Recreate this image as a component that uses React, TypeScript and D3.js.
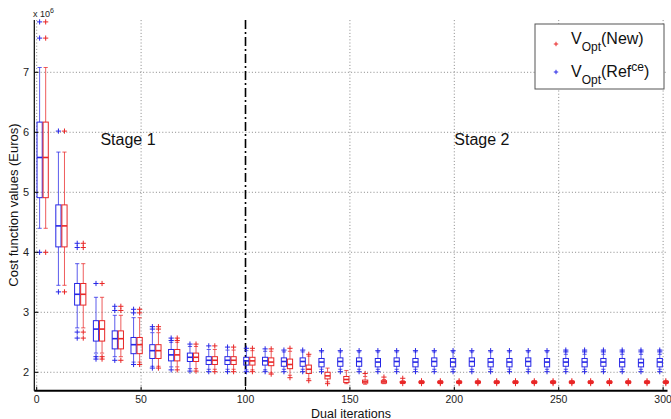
import React from 'react';
import * as d3 from 'd3';

// iteration at which each pair of boxes sits (blue a bit left, red a bit right)
const groupIter = [3, 12, 21, 30, 39, 48, 57, 66, 75, 84, 93, 102, 111, 120, 129, 138, 147,
  156, 165, 174, 183, 192, 201, 210, 219, 228, 237, 246, 255, 264, 273, 282, 291, 300];

// V_Opt(Ref^ce), values in 10^6 Euros
const blueLo = [4.40, 3.45, 2.74, 2.32, 2.26, 2.17, 2.10, 2.09, 2.06, 2.05, 2.05, 2.04, 2.04, 2.05, 2.05, 2.05, 2.05,
  2.05, 2.05, 2.05, 2.05, 2.05, 2.05, 2.05, 2.05, 2.05, 2.05, 2.05, 2.05, 2.05, 2.05, 2.05, 2.05, 2.05];
const blueQ1 = [4.91, 4.09, 3.12, 2.52, 2.39, 2.31, 2.23, 2.19, 2.18, 2.13, 2.13, 2.12, 2.12, 2.10, 2.10, 2.09, 2.10,
  2.10, 2.09, 2.10, 2.09, 2.10, 2.09, 2.10, 2.09, 2.09, 2.10, 2.09, 2.10, 2.09, 2.10, 2.09, 2.09, 2.09];
const blueMed = [5.58, 4.44, 3.30, 2.72, 2.56, 2.46, 2.36, 2.29, 2.25, 2.20, 2.20, 2.19, 2.19, 2.18, 2.18, 2.17, 2.18,
  2.18, 2.17, 2.18, 2.17, 2.18, 2.17, 2.18, 2.17, 2.17, 2.18, 2.17, 2.17, 2.17, 2.17, 2.17, 2.16, 2.17];
const blueQ3 = [6.17, 4.79, 3.48, 2.86, 2.69, 2.58, 2.46, 2.38, 2.32, 2.26, 2.26, 2.25, 2.25, 2.24, 2.24, 2.23, 2.24,
  2.24, 2.23, 2.24, 2.23, 2.24, 2.23, 2.24, 2.23, 2.23, 2.24, 2.23, 2.23, 2.23, 2.23, 2.23, 2.22, 2.23];
const blueHi = [7.08, 5.67, 3.81, 3.25, 2.95, 2.91, 2.66, 2.50, 2.43, 2.38, 2.37, 2.36, 2.35, 2.34, 2.34, 2.34, 2.34,
  2.34, 2.34, 2.34, 2.34, 2.34, 2.34, 2.34, 2.34, 2.34, 2.34, 2.34, 2.30, 2.30, 2.30, 2.30, 2.30, 2.30];
const blueOut = [
  [7.84, 7.57, 4.00], [6.02, 3.34], [4.15, 4.08, 2.67, 2.57], [3.48, 2.26, 2.22], [3.10, 3.03, 2.20],
  [3.05, 2.99, 2.13], [2.76, 2.72, 2.07], [2.57, 2.53, 2.04], [2.47, 2.02], [2.44, 2.01], [2.42, 2.01],
  [2.40, 2.01], [2.39, 2.01], [2.37, 2.01], [2.37, 2.01], [2.36, 2.01], [2.36, 2.01], [2.36, 2.01],
  [2.36, 2.01], [2.36, 2.01], [2.36, 2.01], [2.36, 2.01], [2.36, 2.01], [2.36, 2.01], [2.36, 2.01],
  [2.36, 2.01], [2.36, 2.01], [2.36, 2.01], [2.34, 2.37, 2.01], [2.34, 2.37, 2.01], [2.34, 2.37, 2.01],
  [2.34, 2.37, 2.01], [2.34, 2.37, 2.01], [2.34, 2.37, 2.01]];

// V_Opt(New)
const redLo = [4.40, 3.45, 2.74, 2.32, 2.26, 2.17, 2.10, 2.09, 2.06, 2.05, 2.05, 2.04, 1.99, 1.95, 1.89, 1.84, 1.81,
  1.80, 1.81, 1.815, 1.815, 1.815, 1.815, 1.815, 1.815, 1.815, 1.815, 1.815, 1.815, 1.815, 1.815, 1.815, 1.815, 1.815];
const redQ1 = [4.91, 4.09, 3.12, 2.52, 2.39, 2.31, 2.23, 2.19, 2.18, 2.13, 2.13, 2.12, 2.11, 2.06, 1.98, 1.89, 1.83,
  1.82, 1.82, 1.826, 1.826, 1.826, 1.826, 1.826, 1.826, 1.826, 1.826, 1.826, 1.826, 1.826, 1.826, 1.826, 1.826, 1.826];
const redMed = [5.58, 4.44, 3.30, 2.72, 2.56, 2.46, 2.36, 2.29, 2.25, 2.20, 2.20, 2.19, 2.17, 2.13, 2.05, 1.94, 1.88,
  1.84, 1.84, 1.835, 1.835, 1.835, 1.835, 1.835, 1.835, 1.835, 1.835, 1.835, 1.835, 1.835, 1.835, 1.835, 1.835, 1.835];
const redQ3 = [6.17, 4.79, 3.48, 2.86, 2.69, 2.58, 2.46, 2.38, 2.32, 2.26, 2.26, 2.25, 2.24, 2.22, 2.12, 2.00, 1.93,
  1.87, 1.86, 1.845, 1.844, 1.844, 1.844, 1.844, 1.844, 1.844, 1.844, 1.844, 1.844, 1.844, 1.844, 1.844, 1.844, 1.844];
const redHi = [7.08, 5.67, 3.81, 3.25, 2.95, 2.91, 2.66, 2.50, 2.43, 2.38, 2.37, 2.36, 2.35, 2.35, 2.27, 2.07, 2.03,
  1.93, 1.88, 1.86, 1.855, 1.855, 1.855, 1.855, 1.855, 1.855, 1.855, 1.855, 1.855, 1.855, 1.855, 1.855, 1.855, 1.855];
const redOut = [
  [7.84, 7.57, 4.00], [6.02, 3.34], [4.15, 4.08, 2.67, 2.57], [3.48, 2.26, 2.22], [3.10, 3.03, 2.20],
  [3.05, 2.99, 2.13], [2.76, 2.72, 2.07], [2.57, 2.53, 2.04], [2.47, 2.02], [2.44, 2.01], [2.42, 2.01],
  [2.40, 2.01], [2.39, 1.97], [2.40, 1.91], [2.30, 1.86], [1.81], [], [1.98], [1.92], [1.90, 1.812],
  [1.812, 1.835, 1.858], [1.812, 1.835, 1.858], [1.812, 1.835, 1.858], [1.812, 1.835, 1.858],
  [1.812, 1.835, 1.858], [1.812, 1.835, 1.858], [1.812, 1.835, 1.858], [1.812, 1.835, 1.858],
  [1.812, 1.835, 1.858], [1.812, 1.835, 1.858], [1.812, 1.835, 1.858], [1.812, 1.835, 1.858],
  [1.812, 1.835, 1.858], [1.812, 1.835, 1.858]];

const yTicks = [2, 3, 4, 5, 6, 7];
const xTicks = [0, 50, 100, 150, 200, 250, 300];
const stageLabels = [{ text: 'Stage 1', at: 30.5 }, { text: 'Stage 2', at: 200 }];

const BLUE = '#2626e6';
const RED = '#e82626';
const FONT = 'Liberation Sans, Arial, Helvetica, sans-serif';

const x = d3.scaleLinear().domain([-1.15, 302.1]).range([34.3, 667.5]);
const y = d3.scaleLinear().domain([1.693, 7.87]).range([390.7, 20.1]);

const BOX_W = x(2.5) - x(0);

const Plus = ({ cx, cy, s, color }) => (
  <g stroke={color} strokeWidth={1}>
    <line x1={cx - s} x2={cx + s} y1={cy} y2={cy} />
    <line x1={cx} x2={cx} y1={cy - s} y2={cy + s} />
  </g>
);

const BoxSeries = ({ offset, lo, q1, med, q3, hi, outs, color }) => (
  <g>
    {groupIter.map((g, i) => {
      const cx = x(g + offset);
      const hw = BOX_W / 2;
      return (
        <g key={i}>
          <g stroke={color} strokeWidth={1} strokeOpacity={0.75}>
            <line x1={cx} x2={cx} y1={y(hi[i])} y2={y(q3[i])} />
            <line x1={cx} x2={cx} y1={y(q1[i])} y2={y(lo[i])} />
            <line x1={cx - hw * 0.8} x2={cx + hw * 0.8} y1={y(hi[i])} y2={y(hi[i])} />
            <line x1={cx - hw * 0.8} x2={cx + hw * 0.8} y1={y(lo[i])} y2={y(lo[i])} />
          </g>
          <rect x={cx - hw} y={y(q3[i])} width={BOX_W} height={Math.max(0.8, y(q1[i]) - y(q3[i]))}
            fill="none" stroke={color} strokeWidth={1} />
          <line x1={cx - hw} x2={cx + hw} y1={y(med[i])} y2={y(med[i])} stroke={color} strokeWidth={1.6} />
          {outs[i].map((v, j) => (
            <Plus key={j} cx={cx} cy={y(v)} s={2.6} color={color} />
          ))}
        </g>
      );
    })}
  </g>
);

const App = () => {
  const [x0, x1] = x.range();
  const [yb, yt] = y.range();
  return (
    <svg width={671} height={419} style={{ position: 'absolute', left: 0, top: 0, background: '#fff' }}
      fontFamily={FONT}>
      {/* dotted grid */}
      <g stroke="#6a6a6a" strokeWidth={0.8} strokeDasharray="1,2.2">
        {yTicks.map(t => <line key={'gy' + t} x1={x0} x2={x1} y1={y(t)} y2={y(t)} />)}
        {xTicks.filter(t => t !== 100).map(t => <line key={'gx' + t} x1={x(t)} x2={x(t)} y1={yt} y2={yb} />)}
      </g>

      {/* stage separator */}
      <line x1={x(100)} x2={x(100)} y1={yt} y2={yb} stroke="#000" strokeWidth={1.6} strokeDasharray="9,3,2,3" />

      <BoxSeries offset={-1.6} lo={blueLo} q1={blueQ1} med={blueMed} q3={blueQ3} hi={blueHi} outs={blueOut} color={BLUE} />
      <BoxSeries offset={1.3} lo={redLo} q1={redQ1} med={redMed} q3={redQ3} hi={redHi} outs={redOut} color={RED} />

      {/* axes */}
      <line x1={x0} x2={x0} y1={yt} y2={yb} stroke="#000" strokeWidth={1.2} />
      <line x1={x0} x2={x1} y1={yb} y2={yb} stroke="#000" strokeWidth={2} />
      {yTicks.map(t => (
        <g key={'ty' + t}>
          <line x1={x0} x2={x0 + 4} y1={y(t)} y2={y(t)} stroke="#000" />
          <text x={29} y={y(t)} dy="0.35em" textAnchor="end" fontSize={11} fill="#222">{t}</text>
        </g>
      ))}
      {xTicks.map(t => (
        <g key={'tx' + t}>
          <line x1={x(t)} x2={x(t)} y1={yb} y2={yb - 4} stroke="#000" />
          <text x={x(t)} y={402.5} textAnchor="middle" fontSize={10.5} fill="#222">{t}</text>
        </g>
      ))}
      <text x={33} y={17} fontSize={9} fill="#222">x 10<tspan dy={-4} fontSize={7}>6</tspan></text>

      <text x={351} y={417.5} textAnchor="middle" fontSize={12.5} fill="#111">Dual iterations</text>
      <text transform="translate(18,205) rotate(-90)" textAnchor="middle" fontSize={13} fill="#111">
        Cost function values (Euros)
      </text>

      {stageLabels.map(s => (
        <text key={s.text} x={x(s.at)} y={145} fontSize={16} fill="#111">{s.text}</text>
      ))}

      {/* legend */}
      <rect x={535} y={24} width={129} height={65} fill="#fff" stroke="#555" strokeWidth={1} />
      <Plus cx={556} cy={44} s={2.2} color={RED} />
      <text x={571} y={44} fontSize={16} fill="#111">
        V<tspan dy={7} fontSize={12}>Opt</tspan><tspan dy={-7}>(New)</tspan>
      </text>
      <Plus cx={556} cy={72} s={2.2} color={BLUE} />
      <text x={571} y={77} fontSize={16} fill="#111">
        V<tspan dy={7} fontSize={12}>Opt</tspan><tspan dy={-7}>(Ref</tspan>
        <tspan dy={-6} fontSize={12}>ce</tspan><tspan dy={6}>)</tspan>
      </text>
    </svg>
  );
};

export default App;
